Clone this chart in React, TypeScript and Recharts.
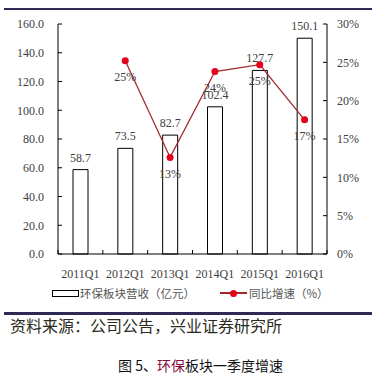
import React from "react";
import { ComposedChart, Bar, Line, XAxis, YAxis, LabelList } from "recharts";

const categories = ["2011Q1", "2012Q1", "2013Q1", "2014Q1", "2015Q1", "2016Q1"];
const revenue = [58.7, 73.5, 82.7, 102.4, 127.7, 150.1];
const growth: (number | null)[] = [null, 25.2, 12.6, 23.8, 24.7, 17.5];
const growthLabels = ["", "25%", "13%", "24%", "25%", "17%"];
const leftTicks = [0, 20, 40, 60, 80, 100, 120, 140, 160];
const rightTicks = [0, 5, 10, 15, 20, 25, 30];

const data = categories.map((c, i) => ({
  cat: c,
  revenue: revenue[i],
  growth: growth[i],
  glabel: growthLabels[i],
}));

const SERIF = "'Liberation Serif', 'Times New Roman', serif";
const CJK = "'Noto Sans CJK SC', sans-serif";
const TXT = "#404040";

const PLOT_LEFT = 58;
const PLOT_RIGHT = 327;
const BAND = (PLOT_RIGHT - PLOT_LEFT) / categories.length;
const AXIS_Y = 254;

const XTick = (props: any) => {
  const { x, y, payload, index } = props;
  return (
    <g>
      <line x1={x - BAND / 2} x2={x - BAND / 2} y1={AXIS_Y} y2={AXIS_Y - 4} stroke="#000" />
      {index === categories.length - 1 && (
        <line x1={x + BAND / 2} x2={x + BAND / 2} y1={AXIS_Y} y2={AXIS_Y - 4} stroke="#000" />
      )}
      <text x={x} y={y + 9} textAnchor="middle" fill={TXT} fontSize={12} fontFamily={SERIF}>
        {payload.value}
      </text>
    </g>
  );
};

export default function App() {
  return (
    <div style={{ position: "absolute", left: 0, top: 0, width: 378, height: 376, background: "#fff", overflow: "hidden" }}>
      <div style={{ position: "absolute", left: 4, top: 8, width: 368, height: 2, background: "#2e2a55" }} />
      <ComposedChart
        width={378}
        height={376}
        data={data}
        margin={{ top: 24, right: 0, bottom: 92, left: 0 }}
        style={{ position: "absolute", left: 0, top: 0 }}
      >
        <XAxis
          dataKey="cat"
          height={30}
          stroke="#000"
          tickLine={false}
          tickMargin={9}
          tick={<XTick />}
          interval={0}
        />
        <YAxis
          yAxisId="left"
          orientation="left"
          width={58}
          domain={[0, 160]}
          ticks={leftTicks}
          tickFormatter={(v: number) => v.toFixed(1)}
          stroke="#000"
          tickSize={-4}
          tickMargin={18}
          tick={{ fill: TXT, fontSize: 12, fontFamily: SERIF }}
          interval={0}
        />
        <YAxis
          yAxisId="right"
          orientation="right"
          width={51}
          domain={[0, 30]}
          ticks={rightTicks}
          tickFormatter={(v: number) => `${v}%`}
          stroke="#000"
          tickSize={-4}
          tickMargin={14}
          tick={{ fill: TXT, fontSize: 12, fontFamily: SERIF, textAnchor: "start" }}
          interval={0}
        />
        <Bar yAxisId="left" dataKey="revenue" barSize={15} fill="#fff" stroke="#000" strokeWidth={1} isAnimationActive={false}>
          <LabelList dataKey="revenue" position="top" offset={8} fill={TXT} fontSize={12} fontFamily={SERIF} />
        </Bar>
        <Line
          yAxisId="right"
          dataKey="growth"
          stroke="#a3272b"
          strokeWidth={1.3}
          dot={{ r: 3.5, fill: "#e3001b", stroke: "#e3001b", strokeWidth: 0 }}
          isAnimationActive={false}
          connectNulls={false}
        >
          <LabelList dataKey="glabel" position="bottom" offset={12} fill={TXT} fontSize={12} fontFamily={SERIF} />
        </Line>
      </ComposedChart>
      {/* legend */}
      <div style={{ position: "absolute", left: 52, top: 290, width: 25, height: 5, border: "1px solid #000", background: "#fff" }} />
      <div style={{ position: "absolute", left: 80, top: 285, fontSize: 11.5, fontFamily: CJK, color: "#555", lineHeight: "16px", whiteSpace: "nowrap" }}>
        环保板块营收（亿元）
      </div>
      <div style={{ position: "absolute", left: 220, top: 292, width: 27, height: 1.5, background: "#a3272b" }} />
      <div style={{ position: "absolute", left: 230, top: 289.5, width: 7, height: 7, borderRadius: 4, background: "#e3001b" }} />
      <div style={{ position: "absolute", left: 249, top: 285, fontSize: 11.5, fontFamily: CJK, color: "#555", lineHeight: "16px", whiteSpace: "nowrap" }}>
        同比增速（%）
      </div>
      <div style={{ position: "absolute", left: 4, top: 312, width: 368, height: 3, background: "#2e2a55" }} />
      <div style={{ position: "absolute", left: 10, top: 315, fontSize: 16, fontFamily: CJK, color: "#2a2a20", lineHeight: "20px", whiteSpace: "nowrap" }}>
        资料来源：公司公告，兴业证券研究所
      </div>
      <div style={{ position: "absolute", left: 118, top: 355, fontSize: 14, fontFamily: CJK, color: "#111", lineHeight: "20px", whiteSpace: "nowrap" }}>
        图 5、<span style={{ color: "#8b0a3c" }}>环保</span>板块一季度增速
      </div>
    </div>
  );
}
